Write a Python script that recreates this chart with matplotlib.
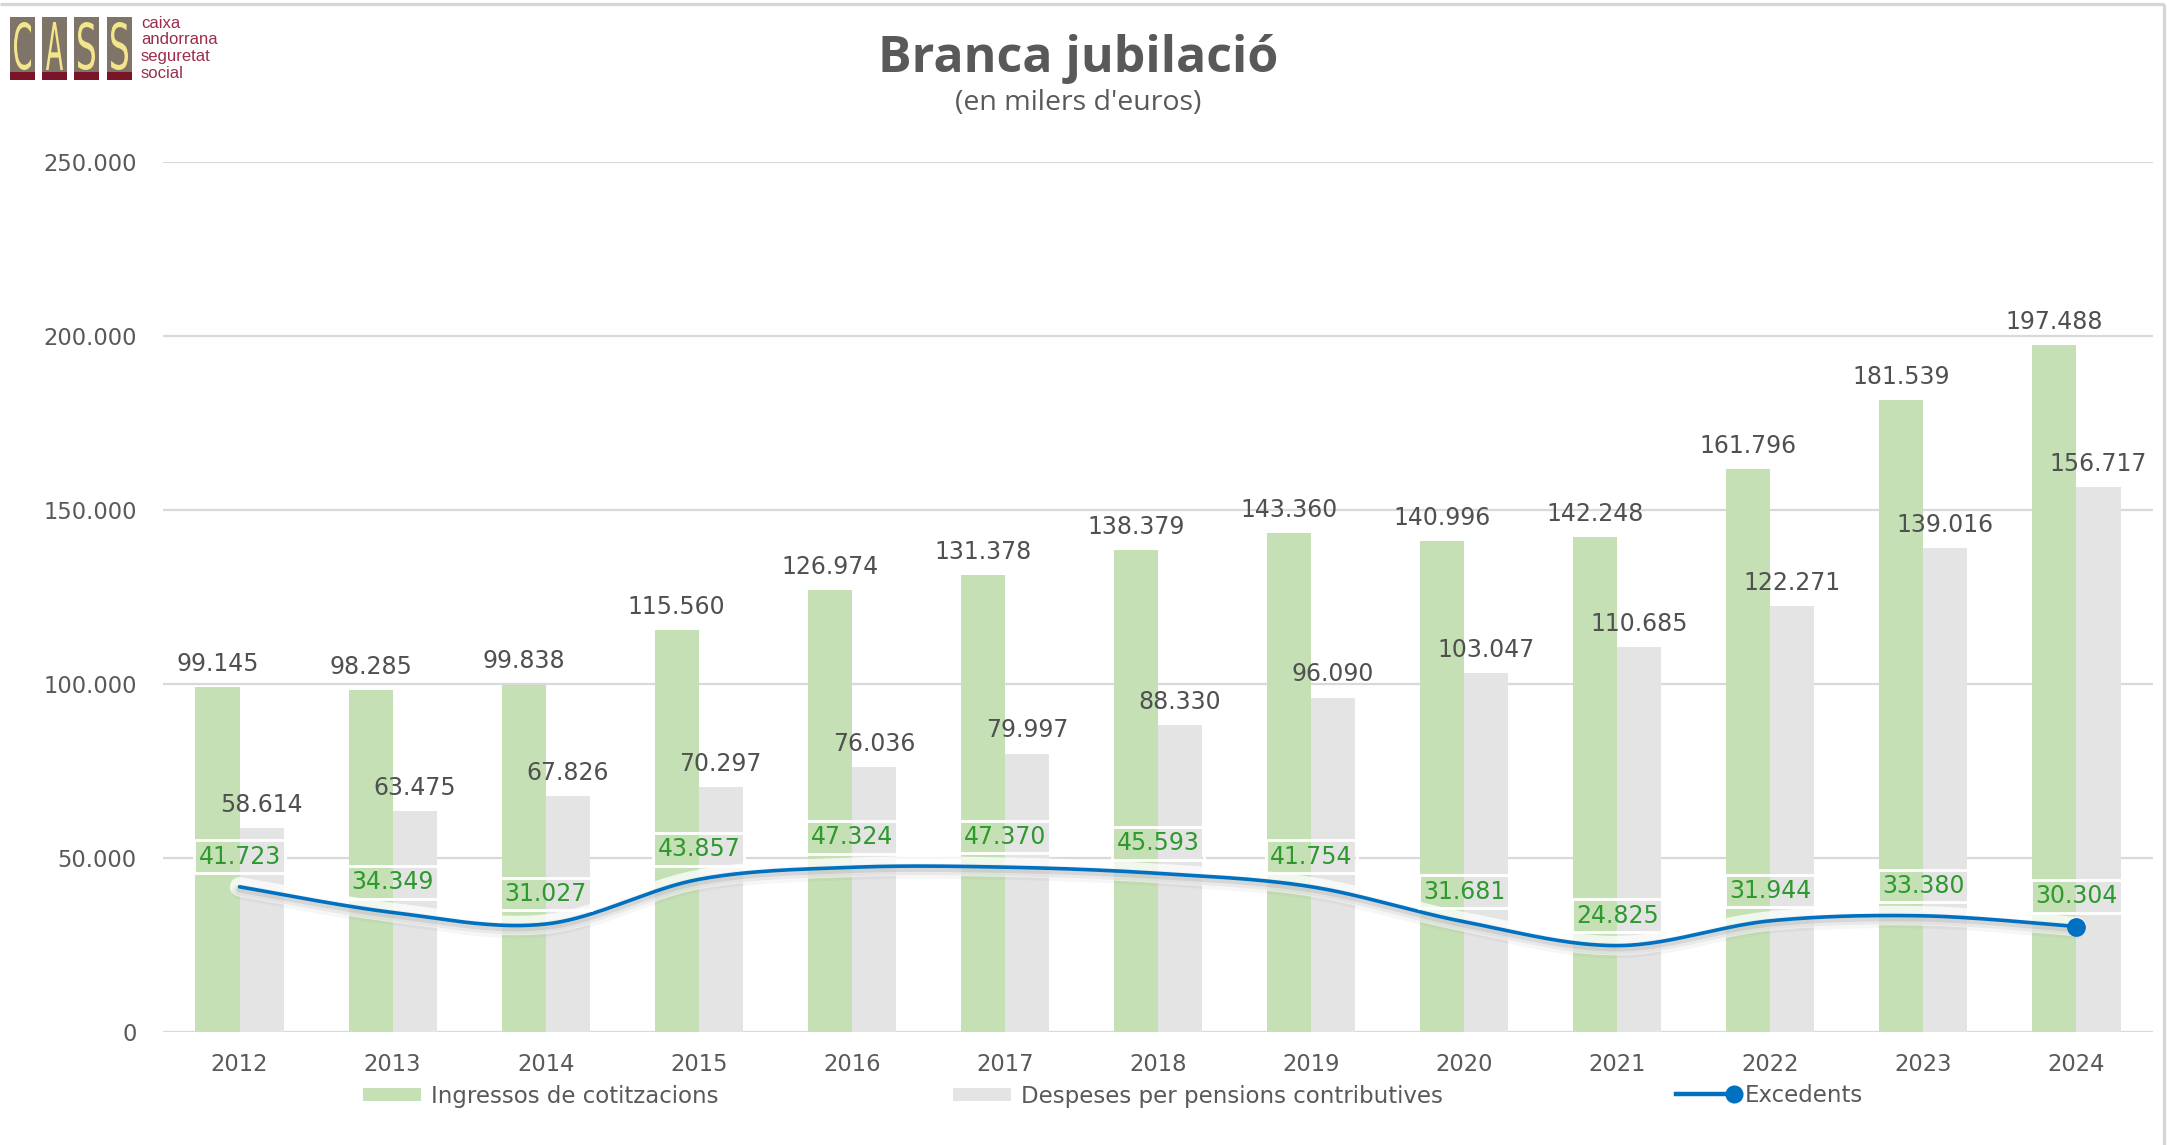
import numpy as np
import matplotlib
matplotlib.use("Agg")
import matplotlib.pyplot as plt
import matplotlib.transforms as mtransforms
from matplotlib.lines import Line2D
from matplotlib.patches import Patch, Rectangle, PathPatch
from matplotlib.textpath import TextPath
from matplotlib.font_manager import FontProperties
from matplotlib.legend_handler import HandlerLine2D
from matplotlib.ticker import FuncFormatter

# data (milers d'euros)
years = ["2012", "2013", "2014", "2015", "2016", "2017", "2018",
         "2019", "2020", "2021", "2022", "2023", "2024"]
ingressos = [99145, 98285, 99838, 115560, 126974, 131378, 138379,
             143360, 140996, 142248, 161796, 181539, 197488]
despeses = [58614, 63475, 67826, 70297, 76036, 79997, 88330,
            96090, 103047, 110685, 122271, 139016, 156717]
excedents = [41723, 34349, 31027, 43857, 47324, 47370, 45593,
             41754, 31681, 24825, 31944, 33380, 30304]

GREEN = "#C5E0B4"
GREY = "#E4E4E4"
BLUE = "#0070C0"
TEXT = "#595959"
LABEL_GREEN = "#2E9A2E"
GRID = "#D9D9D9"

W, H = 2171, 1145


def fmt(v):
    return f"{int(v):,}".replace(",", ".")


def smooth_curve(x, y, steps=40):
    # excel-like smoothed line (catmull-rom as bezier)
    x = np.asarray(x, float)
    y = np.asarray(y, float)
    px = np.concatenate([[x[0]], x, [x[-1]]])
    py = np.concatenate([[y[0]], y, [y[-1]]])
    xs, ys = [], []
    t = np.linspace(0, 1, steps)
    for i in range(1, len(px) - 2):
        p0 = np.array([px[i - 1], py[i - 1]])
        p1 = np.array([px[i], py[i]])
        p2 = np.array([px[i + 1], py[i + 1]])
        p3 = np.array([px[i + 2], py[i + 2]])
        c1 = p1 + (p2 - p0) / 6
        c2 = p2 - (p3 - p1) / 6
        pts = (np.outer((1 - t) ** 3, p1) + np.outer(3 * (1 - t) ** 2 * t, c1)
               + np.outer(3 * (1 - t) * t ** 2, c2) + np.outer(t ** 3, p2))
        xs.append(pts[:, 0])
        ys.append(pts[:, 1])
    return np.concatenate(xs), np.concatenate(ys)


class EndMarkerHandler(HandlerLine2D):
    def create_artists(self, legend, orig_handle, xdescent, ydescent,
                       width, height, fontsize, trans):
        y = height / 2 - ydescent
        line = Line2D([-xdescent, width - xdescent], [y, y],
                      color=BLUE, lw=3.2)
        mark = Line2D([width - xdescent], [y], marker="o", markersize=12,
                      color=BLUE, lw=0)
        line.set_transform(trans)
        mark.set_transform(trans)
        return [line, mark]


fig = plt.figure(figsize=(W / 100, H / 100), dpi=100)
fig.patch.set_facecolor("white")

# background layer in pixel coordinates (frame + logo)
bg = fig.add_axes([0, 0, 1, 1], zorder=0)
bg.set_xlim(0, W)
bg.set_ylim(H, 0)
bg.axis("off")

bg.plot([0, 2164], [4, 4], color="#D6D6D6", lw=2.3, solid_capstyle="butt")
bg.plot([2164, 2164], [4, H], color="#D6D6D6", lw=2.3, solid_capstyle="butt")

box_x = [10, 42, 74, 107]
for bx, letter in zip(box_x, "CASS"):
    bg.add_patch(Rectangle((bx, 17), 25, 56, facecolor="#7F7468", edgecolor="none"))
    bg.add_patch(Rectangle((bx, 72), 25, 8, facecolor="#7A1428", edgecolor="none"))
    tp = TextPath((0, 0), letter, size=1, prop=FontProperties(family="DejaVu Sans"))
    ext = tp.get_extents()
    tr = (mtransforms.Affine2D()
          .translate(-ext.x0, -ext.y0)
          .scale(17 / ext.width, -48 / ext.height)
          .translate(bx + 4, 70))
    bg.add_patch(PathPatch(tr.transform_path(tp), facecolor="#F3E58C",
                           edgecolor="none"))

for i, word in enumerate(["caixa", "andorrana", "seguretat", "social"]):
    bg.text(141, 23 + 17 * i, word, fontsize=12, color="#9B2D4A",
            family="Liberation Sans", ha="left", va="center")

fig.text(1078 / W, 1 - 59 / H, "Branca jubilació", ha="center", va="center",
         fontsize=36, fontweight="bold", color=TEXT, family="Open Sans")
fig.text(1078 / W, 1 - 103 / H, "(en milers d'euros)", ha="center",
         va="center", fontsize=20.5, color=TEXT, family="Open Sans")

# main chart
ax = fig.add_axes([163 / W, 1 - 1032 / H, (2153 - 163) / W, (1032 - 162) / H],
                  zorder=1)
ax.set_facecolor("none")

x = np.arange(len(years))
bw = 0.288
bars_in = ax.bar(x - bw / 2, ingressos, bw, color=GREEN, zorder=2,
                 label="Ingressos de cotitzacions")
bars_out = ax.bar(x + bw / 2, despeses, bw, color=GREY, zorder=2,
                  label="Despeses per pensions contributives")

for bars, vals in ((bars_in, ingressos), (bars_out, despeses)):
    for b, v in zip(bars, vals):
        ax.annotate(fmt(v), (b.get_x() + b.get_width() / 2, v),
                    xytext=(0, 8), textcoords="offset points",
                    ha="center", va="bottom", fontsize=17, color="#505050",
                    zorder=4)

# excedents line with halo and soft shadow
sx, sy = smooth_curve(x, excedents)
ax.plot(sx, sy, color="white", lw=14, alpha=0.75, zorder=3,
        solid_capstyle="round")
for off, lw, a in ((5, 11, 0.07), (4, 7, 0.11), (3, 4, 0.18)):
    shadow_tr = mtransforms.offset_copy(ax.transData, fig=fig, x=0, y=-off,
                                        units="dots")
    ax.plot(sx, sy, color="#808080", lw=lw, alpha=a, zorder=3,
            transform=shadow_tr, solid_capstyle="round")
ax.plot(sx, sy, color=BLUE, lw=2.6, zorder=4, solid_capstyle="round")
ax.plot([x[-1]], [excedents[-1]], marker="o", markersize=12.5, color=BLUE,
        zorder=5, lw=0)

for xi, v in zip(x, excedents):
    ax.annotate(fmt(v), (xi, v), xytext=(0, 13), textcoords="offset points",
                ha="center", va="bottom", fontsize=17, color=LABEL_GREEN,
                zorder=6,
                bbox=dict(boxstyle="square,pad=0.18", facecolor="none",
                          edgecolor="white", linewidth=2))

ax.set_xlim(-0.5, len(years) - 0.5)
ax.set_ylim(0, 250000)
ax.set_yticks(np.arange(0, 250001, 50000))
ax.yaxis.set_major_formatter(FuncFormatter(lambda v, p: fmt(v)))
ax.set_xticks(x)
ax.set_xticklabels(years)
ax.tick_params(axis="both", length=0, labelsize=16.3, labelcolor=TEXT)
ax.tick_params(axis="y", pad=19)
ax.tick_params(axis="x", pad=15)
ax.grid(axis="y", color=GRID, lw=1.6)
ax.set_axisbelow(True)
for s in ax.spines.values():
    s.set_visible(False)

handles = [
    Patch(facecolor=GREEN, edgecolor="none"),
    Patch(facecolor=GREY, edgecolor="none"),
    Line2D([], [], color=BLUE),
]
fig.legend(handles,
           ["Ingressos de cotitzacions", "Despeses per pensions contributives",
            "Excedents"],
           loc="center", bbox_to_anchor=(1113 / W, 1 - 1096 / H), ncol=3,
           frameon=False, fontsize=16.5, labelcolor=TEXT, handlelength=2.53,
           handleheight=0.52, handletextpad=0.44, columnspacing=10.2,
           handler_map={Line2D: EndMarkerHandler()})

fig.savefig("out.png", dpi=100, facecolor="white")
